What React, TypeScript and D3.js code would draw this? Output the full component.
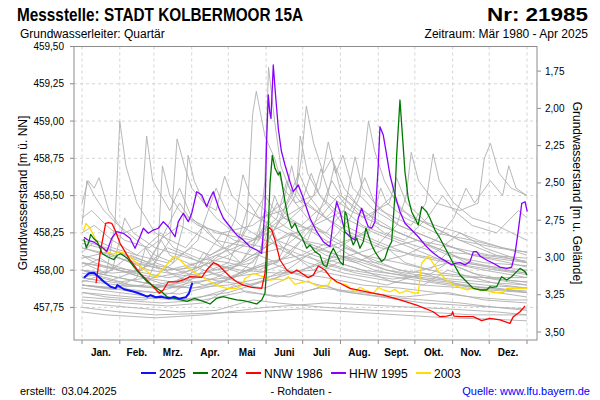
import React from 'react';
import * as d3 from 'd3';

type P = [number, number];

// ---- Axis / label data ----
const MONTH_LABELS = ['Jan.', 'Feb.', 'Mrz.', 'Apr.', 'Mai', 'Juni', 'Juli', 'Aug.', 'Sept.', 'Okt.', 'Nov.', 'Dez.'];
const MONTH_STARTS = [0, 31, 59, 90, 120, 151, 181, 212, 243, 273, 304, 334, 365];
const LEFT_TICKS = [457.75, 458.0, 458.25, 458.5, 458.75, 459.0, 459.25, 459.5];
const RIGHT_TICKS = [1.75, 2.0, 2.25, 2.5, 2.75, 3.0, 3.25, 3.5];
const GROUND_LEVEL = 461.085;

// ---- Highlighted series: [day of year, m ü. NN] ----
const S2025: P[] = [[1.6,457.949],[5.7,457.979],[9.8,457.983],[13.9,457.952],[18,457.922],[23.5,457.889],[27.6,457.878],[29,457.9],[34.4,457.872],[42.7,457.855],[48.1,457.84],[53.6,457.822],[56.3,457.833],[60.4,457.818],[64.6,457.822],[71.4,457.811],[75.5,457.822],[79.6,457.809],[85.1,457.818],[87.8,457.845],[90.5,457.916]];

const S2024: P[] = [[1.6,458.21],[3.5,458.15],[5.7,458.19],[7.1,458.24],[9.8,458.21],[12.5,458.19],[16.7,458.11],[20.8,458.09],[23.5,458.08],[26.2,458.07],[29,458.1],[31.7,458.11],[37.2,458.08],[42.7,458.02],[48.1,457.97],[53.6,457.92],[59.1,457.89],[64.6,457.86],[70,457.82],[75.5,457.81],[81,457.8],[86.4,457.79],[91.9,457.81],[99.5,457.79],[105,457.773],[110.5,457.811],[115.9,457.822],[121.4,457.811],[126.9,457.8],[132.3,457.795],[137.8,457.785],[143.3,457.773],[147.4,457.8],[150.1,457.845],[151.5,458.02],[153.1,458.35],[154.2,458.58],[156.1,458.77],[158.3,458.683],[161,458.638],[162.4,458.66],[163.8,458.593],[166.5,458.46],[169.2,458.348],[172,458.281],[174.7,458.314],[177.4,458.258],[180.2,458.224],[184.3,458.147],[187,458.169],[191.1,458.124],[195.2,458.102],[197.9,458.035],[200.7,458.023],[203.4,458.102],[206.1,458.147],[208.9,458.102],[211.6,458.057],[214.3,458.035],[215.7,458.392],[217.1,458.37],[219.8,458.236],[222.5,458.169],[225.3,458.214],[228,458.147],[230.7,458.191],[232.9,458.281],[234.8,458.236],[237.6,458.169],[240.3,458.124],[243,458.09],[245.8,458.057],[248.5,458.079],[251.2,458.147],[254,458.191],[256.7,458.504],[258.1,458.772],[260.8,459.141],[263,458.884],[264.9,458.66],[267.6,458.482],[270.4,458.392],[273.1,458.348],[275.8,458.303],[278.6,458.426],[282.7,458.392],[285.4,458.348],[289.5,458.269],[293.6,458.214],[299.1,458.13],[304.5,458.046],[310,457.967],[315.5,457.922],[320.9,457.878],[326.4,457.867],[331.9,457.867],[334.6,457.889],[336,457.885],[340.1,457.889],[342.8,457.934],[344.2,457.956],[348.3,457.934],[352.4,457.956],[356.5,457.99],[359.3,458.012],[363.4,457.99],[365,457.967]];

const SNNW1986: P[] = [[11.5,457.912],[15.3,458.135],[19.4,458.314],[21.6,458.318],[24.4,458.314],[27.1,458.269],[31.2,458.18],[39.4,458.068],[47.6,457.979],[55.8,457.912],[63.4,457.845],[66.7,457.867],[70.8,457.922],[77.7,457.922],[83.1,457.934],[88.6,457.956],[98.2,457.952],[102.3,458.001],[107.7,458.05],[111.8,458.035],[115.9,458.001],[121.4,457.956],[126.9,457.922],[132.3,457.9],[139.2,457.885],[147.4,457.878],[150.1,457.979],[152.8,458.291],[155.6,458.269],[158.3,458.202],[162.4,458.068],[167.9,458.001],[172,457.979],[176.1,458.001],[180.2,457.979],[185.6,457.95],[189.7,457.967],[193.8,458.028],[199.3,458.001],[203.4,457.956],[208.9,457.922],[211.6,457.912],[219.8,457.878],[233.5,457.855],[247.1,457.833],[260.8,457.8],[274.5,457.766],[288.1,457.721],[293.6,457.688],[299.1,457.692],[303.2,457.7],[304,457.721],[305.1,457.692],[310,457.688],[320.9,457.688],[327.8,457.661],[334.6,457.677],[342.8,457.666],[351,457.643],[353.8,457.688],[359.3,457.721],[363.4,457.76]];

const SHHW1995: P[] = [[1.6,458.22],[5.2,458.2],[9.3,458.19],[13.4,458.169],[17.5,458.147],[20.3,458.124],[24.4,458.214],[28.5,458.258],[33.9,458.247],[39.4,458.214],[43.5,458.147],[47.6,458.224],[50.3,458.281],[54.4,458.247],[58.5,458.269],[62.6,458.281],[66.7,458.325],[70.8,458.291],[76.3,458.224],[79,458.325],[83.1,458.381],[87.2,458.325],[90,458.381],[94.1,458.526],[98.2,458.504],[102.3,458.426],[105,458.482],[107.7,458.526],[111.8,458.426],[115.9,458.348],[121.4,458.291],[126.9,458.236],[132.3,458.202],[137.8,458.157],[143.3,458.135],[147.4,458.113],[150.1,458.415],[151.5,458.884],[152.8,459.175],[154,459.06],[155,459.018],[156.9,459.376],[158.5,459.2],[161,458.95],[163.5,458.8],[166.5,458.705],[170.6,458.593],[173.3,458.526],[177.4,458.571],[181.5,458.482],[187,458.348],[192.5,458.258],[197.9,458.191],[203.4,458.157],[206,458.325],[208.9,458.459],[211.6,458.392],[215.7,458.258],[219.8,458.224],[223.9,458.202],[226.6,458.348],[229.4,458.415],[232.1,458.348],[234.8,458.291],[237.6,458.281],[240.3,458.325],[243,458.705],[244.4,458.962],[247.1,458.906],[249.9,458.772],[252.6,458.638],[256.7,458.504],[260.8,458.392],[264.9,458.314],[270.4,458.269],[275.8,458.224],[281.3,458.169],[286.8,458.124],[292.2,458.09],[299.1,458.057],[303.2,458.035],[305.9,458.046],[310,458.05],[314.1,458.035],[318.2,458.057],[321,458.124],[323.7,458.124],[326.4,458.095],[331.9,458.068],[337.3,458.046],[342.8,458.02],[348.3,458.012],[352.4,458.02],[355.2,458.113],[357.9,458.269],[360.7,458.448],[363.4,458.459],[365.2,458.392]];

const S2003: P[] = [[1,458.258],[3.3,458.314],[6.6,458.281],[10.7,458.214],[14.8,458.157],[20.3,458.124],[25.7,458.108],[29.8,458.124],[35.3,458.113],[40.8,458.079],[46.2,458.035],[51.7,458.001],[57.2,457.967],[61.3,457.956],[65.4,458.001],[69.5,458.035],[74.9,458.09],[79,458.079],[84.5,458.035],[91.3,457.99],[98.2,457.956],[105,457.922],[111.8,457.894],[118.7,457.878],[126.9,457.878],[131,457.9],[133.7,457.945],[136.4,457.956],[140.5,457.979],[144.6,457.967],[148.7,457.956],[154.2,457.934],[159.7,457.94],[165.1,457.934],[169.2,457.956],[174.7,457.905],[180.2,457.918],[185.6,457.927],[191.1,457.9],[196.6,457.889],[202,457.9],[204.8,457.945],[208.3,457.922],[211.6,457.912],[217.1,457.9],[223.9,457.855],[228,457.885],[233.5,457.862],[238.9,457.845],[243,457.885],[247.1,457.867],[252.6,457.855],[256.7,457.871],[260.8,457.845],[266.3,457.862],[271.7,457.849],[275.8,457.845],[278.6,458.046],[284,458.095],[288.1,458.046],[293.6,457.979],[299.1,457.934],[304.5,457.9],[310,457.885],[315.5,457.867],[320.9,457.878],[326.4,457.867],[331.9,457.862],[337.3,457.849],[345.6,457.849],[348.3,457.878],[356.5,457.878],[364.7,457.878]];

// ---- Other years (grey) ----
const GREY_YEARS: P[][] = [
  [[0,458.05],[20,457.98],[27,458.3],[31,459.0],[36,458.7],[45,458.45],[60,458.25],[85,458.15],[100,458.3],[110,458.2],[130,458.05],[150,458.3],[165,458.15],[190,458.0],[220,457.95],[250,457.9],[280,457.98],[310,457.9],[340,457.85],[365,457.82]],
  [[0,458.45],[5,458.6],[10,458.55],[14,458.62],[22,458.4],[35,458.25],[48,458.3],[53,458.9],[58,458.6],[65,458.5],[72,458.4],[80,458.55],[90,458.35],[110,458.2],[140,458.15],[150,458.4],[160,458.2],[190,458.1],[230,458.0],[280,457.95],[330,457.9],[365,457.88]],
  [[0,458.0],[30,457.95],[60,457.9],[90,457.95],[120,458.05],[135,458.3],[140,459.05],[143,459.2],[150,458.9],[158,458.75],[165,458.55],[175,458.45],[190,458.3],[210,458.2],[240,458.05],[270,457.98],[300,458.05],[330,457.95],[365,457.9]],
  [[0,457.95],[40,457.9],[80,457.88],[110,457.95],[130,458.05],[145,458.2],[150,458.6],[153,459.36],[158,459.0],[163,458.7],[170,458.55],[180,458.45],[188,458.65],[195,458.5],[215,458.3],[240,458.2],[270,458.1],[300,458.05],[330,458.0],[365,457.95]],
  [[0,458.1],[20,458.05],[45,457.98],[70,458.15],[85,458.1],[110,458.0],[140,458.05],[160,458.3],[175,458.5],[180,458.75],[184,459.1],[190,458.85],[198,458.65],[205,458.75],[215,458.55],[230,458.4],[260,458.25],[290,458.15],[320,458.05],[350,458.0],[365,457.98]],
  [[0,457.95],[20,457.92],[40,457.98],[60,458.05],[72,458.2],[78,458.88],[84,458.7],[90,458.55],[100,458.45],[110,458.35],[125,458.25],[145,458.2],[160,458.45],[170,458.35],[190,458.25],[220,458.1],[250,458.0],[290,457.92],[330,457.88],[365,457.85]],
  [[0,458.2],[20,458.15],[50,458.05],[80,458.0],[110,458.1],[140,458.2],[165,458.35],[185,458.45],[195,458.55],[202,458.86],[208,458.65],[214,458.77],[222,458.55],[240,458.4],[260,458.3],[290,458.2],[320,458.1],[350,458.05],[365,458.02]],
  [[0,457.9],[30,457.88],[60,457.85],[90,457.92],[120,457.95],[150,458.05],[180,458.1],[205,458.2],[220,458.35],[228,458.5],[235,459.0],[240,458.8],[248,458.6],[258,458.45],[270,458.35],[290,458.3],[310,458.25],[330,458.15],[365,458.05]],
  [[0,458.05],[40,458.0],[70,457.95],[100,457.98],[130,458.05],[160,458.2],[190,458.3],[215,458.4],[224,458.76],[230,458.55],[245,458.4],[270,458.3],[282,458.45],[288,458.78],[293,458.6],[305,458.45],[320,458.35],[340,458.3],[365,458.2]],
  [[0,457.85],[40,457.82],[80,457.8],[120,457.85],[160,457.95],[200,458.05],[240,458.15],[258,458.3],[266,458.5],[270,458.79],[276,458.6],[290,458.45],[310,458.4],[325,458.45],[330,458.75],[335,458.85],[342,458.65],[352,458.55],[365,458.5]],
  [[0,458.3],[4,458.6],[10,458.5],[18,458.4],[30,458.3],[45,458.2],[60,458.1],[75,458.05],[95,458.2],[110,458.55],[118,458.4],[130,458.3],[150,458.2],[180,458.1],[220,458.0],[260,457.95],[300,457.9],[340,457.88],[365,457.85]],
  [[0,458.0],[15,457.95],[30,457.92],[55,457.95],[62,458.1],[66,458.7],[72,458.5],[80,458.4],[95,458.3],[115,458.25],[140,458.3],[165,458.45],[172,458.7],[176,458.55],[179,458.9],[185,458.65],[195,458.5],[215,458.35],[240,458.25],[270,458.15],[300,458.05],[340,458.0],[365,457.97]],
  [[0,457.9],[25,457.88],[50,457.9],[75,458.05],[83,458.3],[87,458.77],[92,458.6],[100,458.45],[110,458.4],[117,458.63],[123,458.5],[135,458.4],[155,458.3],[180,458.2],[210,458.1],[250,458.0],[290,457.95],[330,457.92],[365,457.9]],
  [[0,458.15],[20,458.1],[45,458.05],[70,458.0],[95,458.05],[115,458.15],[126,458.35],[132,458.64],[138,458.5],[150,458.4],[165,458.3],[185,458.45],[192,458.4],[215,458.25],[245,458.15],[275,458.1],[310,458.05],[340,458.02],[365,458.0]],
  [[0,457.88],[30,457.85],[60,457.82],[90,457.8],[110,457.85],[130,457.9],[150,457.88],[170,457.95],[195,457.9],[220,457.85],[250,457.82],[280,457.8],[310,457.78],[340,457.75],[365,457.73]],
  [[0,457.78],[40,457.75],[80,457.72],[110,457.73],[140,457.8],[160,457.78],[200,457.75],[240,457.73],[280,457.72],[320,457.7],[365,457.7]],
  [[0,457.75],[30,457.72],[60,457.7],[100,457.71],[140,457.72],[180,457.74],[220,457.72],[260,457.7],[300,457.68],[340,457.67],[365,457.66]],
  [[0,458.02],[15,458.08],[30,458.0],[50,457.95],[75,457.92],[95,458.0],[110,458.1],[130,458.05],[150,458.15],[170,458.25],[190,458.15],[210,458.1],[240,458.0],[270,457.95],[300,457.92],[330,457.88],[365,457.86]],
  [[0,457.92],[20,457.98],[40,458.1],[55,458.05],[80,457.95],[100,457.9],[125,457.95],[145,458.1],[160,458.05],[180,458.2],[200,458.1],[225,458.05],[250,458.15],[265,458.05],[295,457.98],[330,457.95],[365,457.92]],
  [[0,458.12],[12,458.2],[25,458.15],[45,458.1],[65,458.25],[75,458.15],[95,458.08],[120,458.05],[145,458.0],[170,458.1],[190,458.3],[205,458.2],[230,458.1],[260,458.0],[290,457.97],[320,457.95],[365,457.95]],
  [[0,457.85],[20,457.82],[50,457.8],[75,457.85],[100,458.0],[115,457.95],[140,457.9],[165,458.0],[185,457.95],[210,458.05],[230,458.0],[255,457.92],[280,457.9],[300,458.0],[320,457.95],[345,457.9],[365,457.88]],
  [[0,458.25],[10,458.3],[25,458.2],[45,458.1],[70,458.05],[90,458.15],[105,458.1],[130,458.2],[150,458.5],[158,458.4],[175,458.3],[200,458.25],[215,458.4],[230,458.3],[260,458.2],[290,458.12],[310,458.25],[325,458.2],[345,458.15],[365,458.12]],
  [[0,457.95],[25,458.0],[35,458.35],[42,458.25],[60,458.15],[80,458.1],[100,458.05],[130,458.0],[160,457.98],[190,458.0],[215,458.15],[230,458.1],[260,458.05],[285,458.0],[300,458.12],[315,458.05],[345,458.0],[365,457.98]],
  [[0,458.0],[30,457.95],[60,457.9],[90,457.88],[120,457.9],[150,457.95],[180,458.0],[210,458.1],[240,458.05],[265,458.1],[290,458.2],[305,458.35],[315,458.55],[322,458.45],[335,458.6],[345,458.5],[350,458.7],[356,458.55],[365,458.5]],
  [[0,458.35],[8,458.4],[20,458.3],[35,458.2],[55,458.15],[80,458.3],[92,458.25],[115,458.15],[140,458.1],[165,458.15],[195,458.35],[210,458.5],[220,458.4],[245,458.3],[275,458.2],[305,458.15],[335,458.1],[365,458.08]],
  [[0,457.82],[30,457.8],[65,457.78],[100,457.8],[135,457.86],[160,457.82],[195,457.88],[230,457.85],[265,457.82],[300,457.85],[330,457.8],[365,457.78]],
  [[0,458.08],[20,458.12],[40,458.05],[70,458.0],[95,458.02],[115,458.25],[125,458.2],[150,458.15],[175,458.55],[182,458.45],[200,458.35],[220,458.25],[250,458.15],[275,458.2],[300,458.1],[330,458.05],[365,458.03]],
  [[0,458.18],[30,458.12],[55,458.05],[80,458.45],[88,458.35],[110,458.25],[140,458.2],[165,458.3],[185,458.2],[205,458.6],[212,458.5],[235,458.35],[255,458.5],[262,458.4],[285,458.3],[310,458.2],[340,458.15],[365,458.12]],
  [[0,457.72],[20,457.7],[60,457.68],[100,457.7],[150,457.75],[200,457.78],[250,457.76],[300,457.74],[340,457.72],[365,457.7]],
  [[0,458.0],[25,457.98],[50,458.0],[65,458.2],[72,458.1],[100,458.0],[120,457.95],[145,457.98],[170,458.05],[200,458.15],[235,458.25],[245,458.55],[250,458.45],[265,458.35],[290,458.25],[320,458.2],[345,458.15],[365,458.1]],
  [[0,457.98],[20,457.95],[40,457.9],[60,457.88],[85,457.92],[100,458.12],[108,458.05],[130,457.98],[155,458.05],[175,457.98],[200,457.95],[230,457.9],[260,457.88],[290,457.85],[320,457.82],[350,457.8],[365,457.8]],
  [[0,458.1],[10,458.05],[30,458.0],[50,457.95],[70,457.9],[90,457.88],[115,457.92],[140,458.0],[152,458.25],[160,458.15],[185,458.05],[215,457.98],[250,457.93],[280,457.9],[315,457.88],[345,457.86],[365,457.85]],
  [[0,457.9],[25,457.87],[45,457.95],[52,458.15],[60,458.05],[85,457.98],[110,457.93],[135,457.9],[160,457.95],[185,458.1],[195,458.05],[225,457.98],[255,457.94],[285,457.97],[300,458.05],[320,457.98],[350,457.93],[365,457.92]],
  [[0,457.8],[35,457.78],[70,457.76],[100,457.78],[125,457.9],[135,457.85],[170,457.82],[200,457.9],[210,457.86],[245,457.82],[280,457.78],[320,457.76],[365,457.74]],
  [[0,458.05],[30,458.0],[60,457.95],[90,458.0],[120,458.1],[140,458.2],[160,458.35],[168,458.6],[175,458.45],[190,458.5],[196,458.68],[203,458.5],[220,458.4],[232,458.62],[240,458.45],[260,458.3],[290,458.2],[320,458.1],[365,458.05]],
  [[0,457.93],[30,457.9],[60,457.88],[95,457.95],[120,458.0],[145,458.1],[158,458.5],[165,458.35],[180,458.3],[200,458.45],[207,458.7],[213,458.5],[230,458.35],[252,458.45],[258,458.62],[266,458.45],[285,458.3],[310,458.2],[340,458.1],[365,458.05]],
  [[0,458.15],[25,458.1],[55,458.0],[80,457.97],[105,458.05],[128,458.2],[137,458.45],[145,458.35],[165,458.4],[178,458.65],[186,458.5],[200,458.35],[218,458.5],[224,458.45],[245,458.3],[275,458.2],[300,458.12],[330,458.1],[365,458.06]],
  [[0,457.9],[40,457.86],[80,457.84],[110,457.9],[135,458.0],[160,458.05],[172,458.25],[180,458.2],[210,458.15],[240,458.3],[248,458.25],[265,458.2],[283,458.35],[296,458.5],[305,458.4],[320,458.3],[340,458.25],[358,458.4],[365,458.35]],
];

const LEGEND = [
  { label: '2025', color: '#1010ff' },
  { label: '2024', color: '#007800' },
  { label: 'NNW 1986', color: '#ff0000' },
  { label: 'HHW 1995', color: '#8a00ff' },
  { label: '2003', color: '#ffdd00' },
];

const FONT = "'Liberation Sans', Arial, Helvetica, sans-serif";

export default function App() {
  const W = 600, H = 400;
  const L = 74, R = 537, T = 46.5, B = 340;

  const x = d3.scaleLinear().domain([0, 365]).range([82, 527]);
  const y = d3.scaleLinear().domain([457.5315, 459.5]).range([B, T]);
  const yR = (d: number) => y(GROUND_LEVEL - d);

  const line = d3.line<P>().x(d => x(d[0])).y(d => y(d[1]));
  const fmt = (v: number) => d3.format('.2f')(v).replace('.', ',');

  const highlighted: { data: P[]; color: string; w: number }[] = [
    { data: S2003, color: '#ffdd00', w: 1.3 },
    { data: SHHW1995, color: '#8a00ff', w: 1.3 },
    { data: SNNW1986, color: '#ff0000', w: 1.3 },
    { data: S2024, color: '#007800', w: 1.3 },
    { data: S2025, color: '#1010ff', w: 2 },
  ];

  const legendX = [141, 193, 246, 331, 416];

  return (
    <svg width={W} height={H} style={{ position: 'absolute', left: 0, top: 0, background: '#fff' }} fontFamily={FONT}>
      <rect x={0} y={0} width={W} height={H} fill="#fff" />
      {/* header */}
      <text x={17} y={21} fontSize={18} fontWeight="bold" textLength={286} lengthAdjust="spacingAndGlyphs">Messstelle: STADT KOLBERMOOR 15A</text>
      <text x={487} y={21} fontSize={18} fontWeight="bold" textLength={101} lengthAdjust="spacingAndGlyphs">Nr: 21985</text>
      <text x={20} y={38} fontSize={12}>Grundwasserleiter: Quartär</text>
      <text x={588} y={38} fontSize={12} textAnchor="end">Zeitraum: Mär 1980 - Apr 2025</text>

      {/* grid */}
      {LEFT_TICKS.filter(v => v < 459.5).map(v => (
        <line key={'h' + v} x1={L} x2={R} y1={y(v)} y2={y(v)} stroke="#d4d4d4" strokeDasharray="3,3" strokeWidth={1} />
      ))}
      {MONTH_STARTS.map(d => (
        <line key={'v' + d} x1={x(d)} x2={x(d)} y1={T} y2={B} stroke="#d4d4d4" strokeDasharray="3,3" strokeWidth={1} />
      ))}

      {/* series */}
      <clipPath id="clip"><rect x={L} y={T} width={R - L} height={B - T} /></clipPath>
      <g clipPath="url(#clip)">
        {GREY_YEARS.map((s, i) => (
          <path key={'g' + i} d={line(s) || ''} fill="none" stroke="#b0b0b0" strokeWidth={0.9} />
        ))}
        {highlighted.map((s, i) => (
          <path key={'c' + i} d={line(s.data) || ''} fill="none" stroke={s.color} strokeWidth={s.w} strokeLinejoin="round" />
        ))}
      </g>

      {/* frame */}
      <rect x={L} y={T} width={R - L} height={B - T} fill="none" stroke="#8c8c8c" strokeWidth={1} />

      {/* left axis */}
      {LEFT_TICKS.map(v => (
        <g key={'lt' + v}>
          <line x1={L - 4} x2={L} y1={y(v)} y2={y(v)} stroke="#8c8c8c" />
          <text x={64} y={y(v) + 3.5} fontSize={10} textAnchor="end">{fmt(v)}</text>
        </g>
      ))}
      {/* right axis */}
      {RIGHT_TICKS.map(v => (
        <g key={'rt' + v}>
          <line x1={R} x2={R + 4} y1={yR(v)} y2={yR(v)} stroke="#8c8c8c" />
          <text x={545} y={yR(v) + 3.5} fontSize={10}>{fmt(v)}</text>
        </g>
      ))}
      {/* bottom axis */}
      {MONTH_STARTS.map(d => (
        <line key={'bt' + d} x1={x(d)} x2={x(d)} y1={B} y2={B + 4} stroke="#8c8c8c" />
      ))}
      {MONTH_LABELS.map((m, i) => (
        <text key={m} x={x((MONTH_STARTS[i] + MONTH_STARTS[i + 1]) / 2)} y={356} fontSize={10} fontWeight="bold" textAnchor="middle">{m}</text>
      ))}

      {/* axis titles */}
      <text transform="translate(27,193) rotate(-90)" fontSize={12} textAnchor="middle">Grundwasserstand [m ü. NN]</text>
      <text transform="translate(573,193) rotate(90)" fontSize={12} textAnchor="middle">Grundwasserstand [m u. Gelände]</text>

      {/* legend */}
      {LEGEND.map((l, i) => (
        <g key={l.label}>
          <line x1={legendX[i]} x2={legendX[i] + 15} y1={373} y2={373} stroke={l.color} strokeWidth={2} />
          <text x={legendX[i] + 18} y={377.5} fontSize={12}>{l.label}</text>
        </g>
      ))}

      {/* footer */}
      <text x={20} y={395} fontSize={11}>{'erstellt:\u00a0 03.04.2025'}</text>
      <text x={301} y={395} fontSize={11} textAnchor="middle">- Rohdaten -</text>
      <text x={590} y={395} fontSize={11} textAnchor="end" fill="#0000ff">Quelle: www.lfu.bayern.de</text>
    </svg>
  );
}
